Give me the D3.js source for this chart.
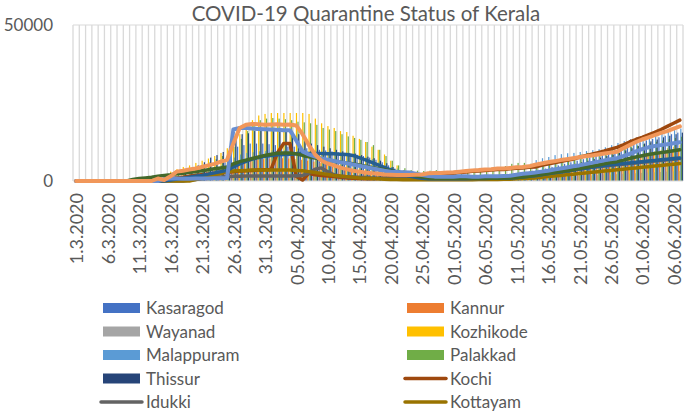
<!DOCTYPE html>
<html><head><meta charset="utf-8">
<script src="https://cdn.jsdelivr.net/npm/d3@7"></script>
<style>
body{margin:0;background:#fff}
text{font-family:Lato, "Open Sans", sans-serif; fill:#595959}
</style>
</head><body>
<svg id="c" width="685" height="413"></svg>
<script>
const categories = [
"1.3.2020","2.3.2020","3.3.2020","4.3.2020","5.3.2020","6.3.2020","7.3.2020","8.3.2020","9.3.2020","10.3.2020",
"11.3.2020","12.3.2020","13.3.2020","14.3.2020","15.3.2020","16.3.2020","17.3.2020","18.3.2020","19.3.2020","20.3.2020",
"21.3.2020","22.3.2020","23.3.2020","24.3.2020","25.3.2020","26.3.2020","27.3.2020","28.3.2020","29.3.2020","30.3.2020",
"31.3.2020","01.04.2020","02.04.2020","03.04.2020","04.04.2020","05.04.2020","06.04.2020","07.04.2020","08.04.2020","09.04.2020",
"10.04.2020","11.04.2020","12.04.2020","13.04.2020","14.04.2020","15.04.2020","16.04.2020","17.04.2020","18.04.2020","19.04.2020",
"20.04.2020","21.04.2020","22.04.2020","23.04.2020","24.04.2020","25.04.2020","26.04.2020","27.04.2020","28.04.2020","29.04.2020",
"01.05.2020","02.05.2020","03.05.2020","04.05.2020","05.05.2020","06.05.2020","07.05.2020","08.05.2020","09.05.2020","10.05.2020",
"11.05.2020","12.05.2020","13.05.2020","14.05.2020","15.05.2020","16.05.2020","17.05.2020","18.05.2020","19.05.2020","20.05.2020",
"21.05.2020","22.05.2020","23.05.2020","24.05.2020","25.05.2020","26.05.2020","27.05.2020","28.05.2020","29.05.2020","30.05.2020",
"01.06.2020","02.06.2020","03.06.2020","04.06.2020","05.06.2020","06.06.2020","07.06.2020"];

// bar series
const kasaragod = [0,0,0,0,0,0,0,0,0,0,
0,0,0,0,0,0,500,1000,1500,2000,
2500,3000,3500,4500,6000,10000,11000,11500,12000,12000,
12000,11800,11500,11500,11000,11000,10800,10500,10000,10000,
9800,9500,9200,9000,8700,8400,8000,7500,6800,6000,
5000,4000,3000,2200,1500,1100,900,800,800,800,
800,900,900,1000,1000,1100,1200,1300,1400,1500,
1700,2000,2500,3000,3500,4000,4500,5000,5500,6000,
6500,7000,7600,8200,8800,9400,10000,10600,11200,11800,
12400,13000,13500,14000,14500,15000,15500];
const kannur = [0,0,0,0,0,0,0,0,0,0,
0,0,0,500,800,1200,1500,1800,2000,2300,
2600,3000,3300,3600,4000,5000,5500,6000,6500,6800,
7000,7200,7300,7300,7200,7000,6800,6500,6200,5800,
5400,5000,4600,4200,3800,3400,3000,2700,2400,2100,
1800,1500,1300,1100,1000,900,800,800,800,800,
800,900,900,1000,1000,1100,1200,1300,1400,1500,
1700,1900,2200,2500,2800,3100,3400,3700,4000,4300,
4600,4900,5200,5500,5800,6100,6400,6800,7200,7600,
8000,8400,8800,9200,9600,10000,10400];
const wayanad = [0,0,0,0,0,0,0,0,0,0,
0,0,0,0,0,200,300,400,500,600,
700,800,900,1000,1100,1300,1500,1700,1900,2000,
2100,2200,2200,2200,2200,2100,2000,1900,1800,1700,
1600,1500,1400,1300,1200,1100,1000,900,800,700,
600,500,500,400,400,400,400,400,400,400,
400,400,400,400,400,500,500,500,500,600,
600,700,800,900,1000,1100,1200,1300,1400,1500,
1600,1700,1800,1900,2000,2100,2200,2300,2400,2500,
2600,2700,2800,2900,3000,3100,3200];
const kozhikode = [0,0,0,0,0,0,0,0,0,0,
0,0,0,1200,2000,3000,3800,4500,5000,5800,
6500,7200,8000,9000,10500,12500,15000,17500,19500,21000,
21500,21800,21800,21800,21800,21800,21800,21500,20000,18500,
17600,17000,16000,15700,14500,13500,12500,11000,10000,8500,
6500,5000,3500,2500,1800,1300,1000,900,800,800,
800,800,900,900,1000,1000,1100,1200,1300,1500,
1800,2100,2400,2800,3200,3500,3800,4000,4200,4500,
4700,5000,5300,5600,5900,6200,6500,7000,7500,8000,
8500,9000,9500,10000,10500,11000,11500];
const malappuram = [0,0,0,0,0,0,0,0,0,0,
0,0,0,500,800,1000,1500,2000,2500,3000,
3500,4000,4500,5000,6000,7500,8500,9000,9200,9500,
9600,9800,9800,9800,9700,9600,9500,9300,9200,9000,
9000,8800,8700,8500,8300,8000,7500,7000,6000,5000,
4500,4000,3500,3000,2500,2000,1500,1200,1000,800,
800,800,900,900,1000,1000,1100,1200,1300,1500,
1800,2200,3000,6700,7300,7700,8300,8600,8900,9000,
9300,9600,9900,10200,10800,11500,12200,12800,13400,14000,
14500,15000,15300,15700,16000,16300,16800];
const palakkad = [0,0,0,0,0,0,0,0,0,0,
0,0,0,800,1500,2200,3000,3500,4000,4600,
5200,6000,7000,8000,9500,11000,13500,16000,18000,19500,
20000,20200,20000,19800,19500,19000,18800,18500,18000,17000,
16500,16000,15000,14300,13800,13200,12500,11500,10000,8000,
6500,5000,4100,3500,3300,3200,3300,3500,3200,3200,
3000,3100,3200,3000,3300,3500,3800,4200,4800,5500,
5800,5800,5500,5000,5500,6000,6500,7000,7500,8000,
8500,9000,9300,9500,9800,10000,10300,10600,11000,11400,
11800,12200,12600,13000,13400,13800,14200];
const thissur = [0,0,0,0,0,0,0,0,0,0,
0,0,0,0,0,0,0,3000,4000,5000,
6000,7500,8300,9300,11000,14500,15000,15300,16000,16500,
16500,16000,16000,15800,15500,15000,13000,12000,11500,11000,
10500,10000,9500,9000,8800,8300,7800,7300,6500,5700,
4500,3500,2500,1800,1200,900,800,700,700,700,
700,700,800,800,800,900,900,1000,1000,1100,
1200,1500,2000,2500,3000,3500,4000,4500,5000,5500,
6000,6500,7000,7500,8000,8500,9000,9800,10500,11200,
12000,12700,13300,14000,14500,15000,15500];

// line series
const kochi = [0,0,0,0,0,0,0,0,0,0,
0,0,0,200,500,800,1000,1200,1500,1800,
2000,2200,2400,2600,2800,3000,3200,3300,3400,3500,
3600,3700,9000,12000,12000,1500,300,2500,2000,1800,
1600,1400,1200,1000,900,800,700,700,800,900,
1000,1100,1200,1300,1500,1700,2000,2200,2300,2400,
2500,2700,2900,3100,3200,3400,3500,3700,3700,3900,
4100,4200,4400,4500,5000,5400,5800,6200,6600,7000,
7600,8100,8600,9100,9600,10200,10800,11600,12500,13300,
14000,14800,15600,16500,17500,18500,19500];
const idukki = [0,0,0,0,0,0,0,0,0,0,
0,0,0,0,0,0,0,0,300,500,
700,900,1100,1300,1400,1500,1500,1600,1600,1600,
1600,1600,1600,1600,1600,1700,1800,2500,3800,4200,
3000,2000,1500,1400,1300,1200,1100,1000,900,900,
800,800,800,700,700,700,700,700,700,700,
700,700,800,800,800,900,900,900,1000,1000,
1100,1200,1300,1500,1800,2100,2500,2900,3200,3500,
3800,4100,4400,4600,4800,5000,5200,5400,5600,5800,
6000,6200,6400,6600,6800,7000,7200];
const kottayam = [0,0,0,0,0,0,0,0,0,0,
0,0,0,0,0,0,0,0,0,500,
1000,1500,2000,2500,3000,3200,3300,3400,3500,3500,
3500,3500,3500,3500,3500,3400,3300,3000,2700,2400,
2100,1800,1600,1400,1200,1000,900,800,700,600,
500,500,400,400,400,400,400,400,400,400,
400,400,400,400,500,500,500,500,600,600,
700,800,900,1000,1200,1400,1600,1800,2000,2200,
2400,2600,2800,3000,3200,3400,3600,3800,4000,4200,
4400,4600,4800,5000,5200,5400,5600];
const alappuzha = [0,0,0,0,0,0,0,0,0,0,
0,0,0,0,0,300,600,900,1200,1500,
1800,2200,2600,3000,3400,4500,5500,6300,7000,7500,
7900,8200,8400,8500,8600,8700,8800,8800,8800,8800,
8700,8700,8600,8500,8200,7500,6800,6000,5200,4400,
3600,2900,2200,1600,1200,900,700,700,700,700,
700,700,700,800,800,800,900,900,1000,1000,
1100,1300,1500,1700,2000,2300,2600,2900,3200,3500,
3800,4100,4400,4700,5000,5200,5400,5600,5800,6000,
6200,6400,6600,6800,7000,7200,7400];
const pathanamthitta = [0,0,0,0,0,0,0,0,0,500,
800,1000,1200,1500,1800,2000,2300,2500,2800,3000,
3300,3600,3900,4200,4500,5500,6200,6700,7200,7700,
8200,8600,8900,9000,9000,8700,8200,7800,7400,7000,
6700,6400,6100,5800,5500,5100,4700,4300,4000,3600,
3200,2900,2500,2100,1700,1300,1000,900,900,900,
900,900,900,900,900,900,900,900,1000,1000,
1100,1300,1500,1800,2100,2400,2700,3000,3300,3600,
4000,4400,4700,5100,5500,5900,6200,6700,7200,7700,
8100,8500,8800,9100,9400,9700,10000];
const kollam = [0,0,0,0,0,0,0,0,0,0,
0,0,0,0,600,800,800,700,700,800,
800,800,900,900,1000,16500,17000,17000,16800,16700,
16600,16500,16400,16300,16300,13000,9500,8500,7800,7200,
6800,6400,6000,5700,5300,4900,4500,4100,3700,3300,
3000,2900,2800,2700,2300,1900,1600,1400,1400,1400,
1400,1500,1500,1400,1400,1500,1500,1500,1600,1700,
2000,2300,2500,2700,3000,3300,3700,4000,4300,4700,
5000,5400,5800,6200,6600,7000,7300,8000,8700,9500,
10200,10800,11200,11500,11800,12100,12400];
const thiruvananthapuram = [0,0,0,0,0,0,0,0,0,0,
0,0,0,800,300,1500,3000,3300,3700,4000,
4500,5000,5500,6200,6800,12000,17000,18000,18300,18200,
18000,18100,18200,18000,18100,17800,15000,11500,8500,6500,
5600,5000,4300,3800,3300,3000,2700,2500,2300,2100,
2000,1900,1900,1900,2000,2100,2500,2600,2600,2700,
2800,3000,3200,3400,3500,3700,3800,4000,4000,4200,
4400,4500,4700,5200,5600,6000,6300,6700,7000,7300,
7600,7900,8200,8500,8800,9100,9400,10500,11500,12500,
13300,14000,14700,15400,16000,16800,17500];

const barNames = ["Kasaragod","Kannur","Wayanad","Kozhikode","Malappuram","Palakkad","Thissur"];
const lineNames = ["Kochi","Idukki","Kottayam","Alappuzha","Pathanamthitta","Kollam","Thiruvananthapuram"];
const legendNames = ["Kasaragod","Kannur","Wayanad","Kozhikode","Malappuram","Palakkad","Thissur","Kochi","Idukki","Kottayam"];
const yTicks = [0, 50000];
const title = "COVID-19 Quarantine Status of Kerala";

const values = {Kasaragod:kasaragod, Kannur:kannur, Wayanad:wayanad, Kozhikode:kozhikode,
  Malappuram:malappuram, Palakkad:palakkad, Thissur:thissur, Kochi:kochi, Idukki:idukki,
  Kottayam:kottayam, Alappuzha:alappuzha, Pathanamthitta:pathanamthitta, Kollam:kollam,
  Thiruvananthapuram:thiruvananthapuram};
const colors = {Kasaragod:"#4472C4", Kannur:"#ED7D31", Wayanad:"#A5A5A5", Kozhikode:"#FFC000",
  Malappuram:"#5B9BD5", Palakkad:"#70AD47", Thissur:"#264478", Kochi:"#9E480E", Idukki:"#636363",
  Kottayam:"#997300", Alappuzha:"#255E91", Pathanamthitta:"#43682B", Kollam:"#698ED0",
  Thiruvananthapuram:"#F1975A"};

const svg = d3.select("#c");
const x = d3.scaleBand().domain(categories).range([73, 683]).padding(0);
const y = d3.scaleLinear().domain([0, 50000]).range([181, 25]);
const bw = x.bandwidth();
const clusterW = bw * 0.84;
const xb = d3.scaleBand().domain(barNames).range([0, clusterW]).padding(0);

// title
svg.append("text").attr("x", 366).attr("y", 21).attr("text-anchor", "middle")
  .style("font-size", "20.5px").text(title);

// gridlines
const gridX = categories.map(c => x(c)).concat([x.range()[1]]);
svg.append("g").selectAll("line").data(gridX).join("line")
  .attr("x1", d => d).attr("x2", d => d).attr("y1", y(50000)).attr("y2", y(0))
  .attr("stroke", "#d9d9d9").attr("stroke-width", 1.3);
svg.append("line").attr("x1", 73).attr("x2", 683).attr("y1", y(50000)).attr("y2", y(50000))
  .attr("stroke", "#d9d9d9").attr("stroke-width", 1);

// bars
const barG = svg.append("g");
barNames.forEach(name => {
  barG.append("g").selectAll("rect").data(values[name]).join("rect")
    .attr("x", (d, i) => x(categories[i]) + (bw - clusterW) / 2 + xb(name))
    .attr("width", xb.bandwidth() + 0.45)
    .attr("y", d => y(d))
    .attr("height", d => y(0) - y(d))
    .attr("fill", colors[name]);
});

// x axis line
svg.append("line").attr("x1", 73).attr("x2", 683).attr("y1", y(0)).attr("y2", y(0))
  .attr("stroke", "#d9d9d9").attr("stroke-width", 1);

// lines
const line = d3.line().x((d, i) => x(categories[i]) + bw / 2).y(d => y(d));
lineNames.forEach(name => {
  svg.append("path").datum(values[name]).attr("d", line)
    .attr("fill", "none").attr("stroke", colors[name])
    .attr("stroke-width", name === "Kollam" || name === "Thiruvananthapuram" ? 4 : 3.5)
    .attr("stroke-linejoin", "round").attr("stroke-linecap", "round");
});

// y axis
const yAxis = svg.append("g").attr("transform", "translate(53,0)")
  .call(d3.axisLeft(y).tickValues(yTicks).tickSize(0).tickPadding(0).tickFormat(d3.format("d")));
yAxis.select(".domain").remove();
yAxis.selectAll("text").style("font-size", "17px").style("font-family", "Lato").attr("fill", "#595959");

// x axis labels
const xAxis = svg.append("g").attr("transform", `translate(0,${y(0)})`)
  .call(d3.axisBottom(x).tickValues(categories.filter((d, i) => i % 5 === 0)).tickSize(0));
xAxis.select(".domain").remove();
xAxis.selectAll("text")
  .attr("transform", "translate(1,12) rotate(-90)")
  .attr("x", 0).attr("y", 0).attr("dy", "0.35em")
  .attr("text-anchor", "end")
  .style("font-size", "18px").style("font-family", "Lato").attr("fill", "#595959");

// legend
const legend = svg.append("g");
const rowY = [308, 331.5, 355, 378.5, 402];
legendNames.forEach((name, k) => {
  const col = k % 2, row = Math.floor(k / 2);
  const sx = col === 0 ? 103 : 407;
  const cy = rowY[row];
  const g = legend.append("g");
  if (lineNames.includes(name)) {
    g.append("line").attr("x1", sx - 2).attr("x2", sx + 39).attr("y1", cy).attr("y2", cy)
      .attr("stroke", colors[name]).attr("stroke-width", 3.5).attr("stroke-linecap", "round");
  } else {
    g.append("rect").attr("x", sx).attr("y", cy - 5).attr("width", 37).attr("height", 10)
      .attr("fill", colors[name]);
  }
  g.append("text").attr("x", sx + 43).attr("y", cy).attr("dy", "0.36em")
    .style("font-size", "17px").text(name);
});
</script>
</body></html>
